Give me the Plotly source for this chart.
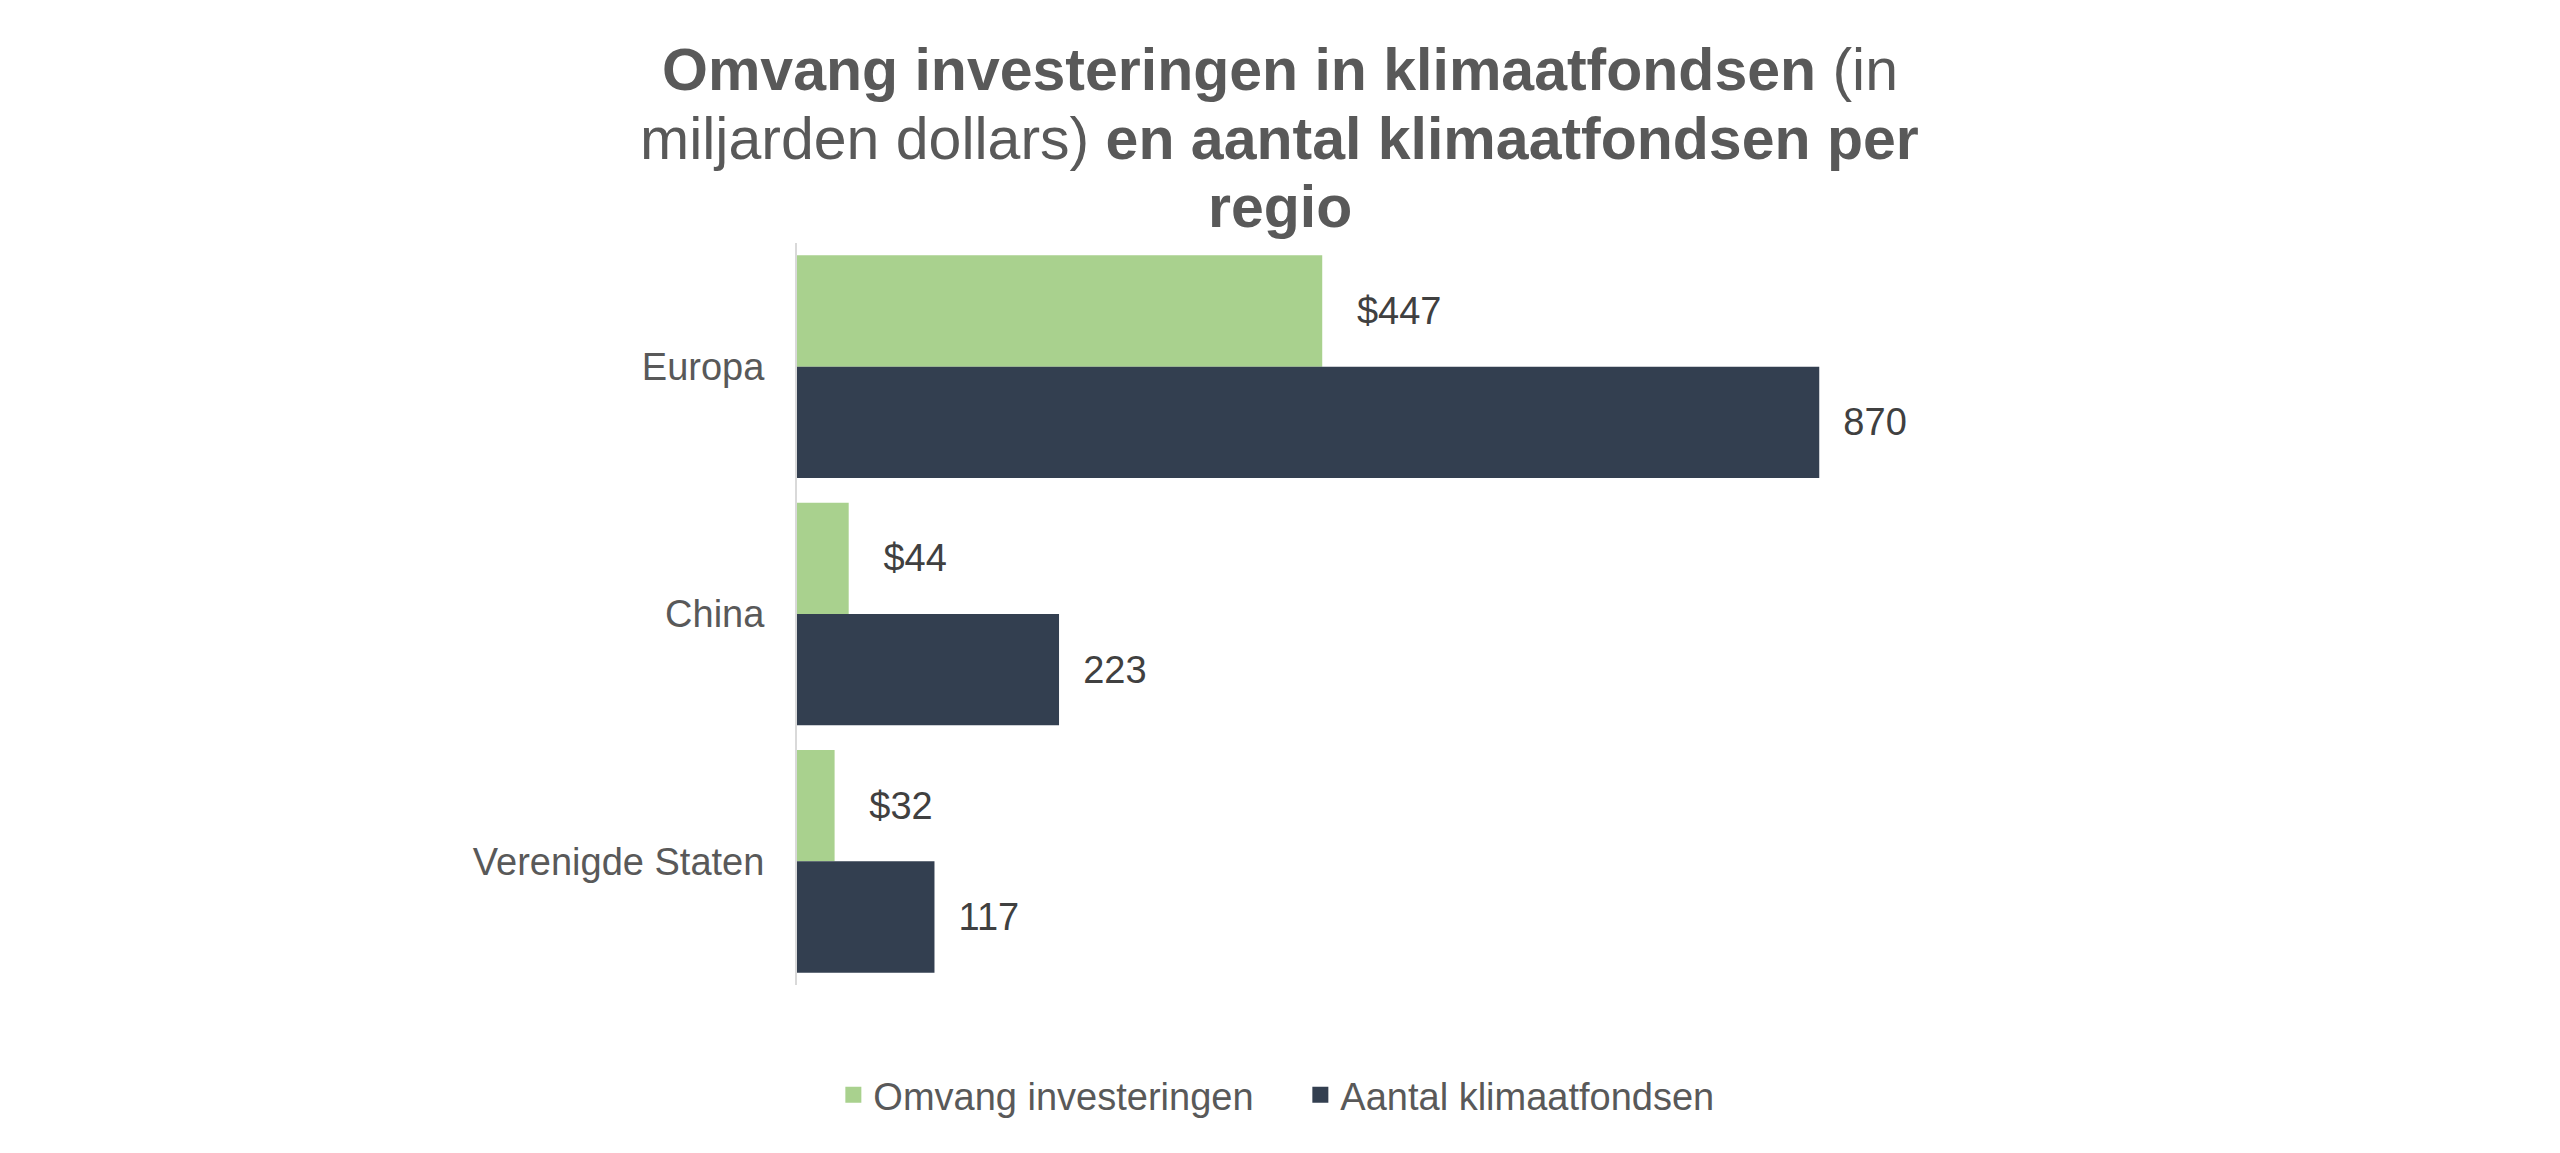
import plotly.graph_objects as go

# regio's en waarden
regios = ["Europa", "China", "Verenigde Staten"]
investeringen = [447, 44, 32]      # miljarden dollars
aantal_fondsen = [870, 223, 117]
reeksen = ["Omvang investeringen", "Aantal klimaatfondsen"]

groen = "#A9D18E"
donker = "#333F50"
grijs = "#595959"
label_kleur = "#404040"
font_naam = "Liberation Sans, Arial, sans-serif"

trace1 = go.Bar(y=regios, x=investeringen, orientation="h", name=reeksen[0], showlegend=False,
                marker=dict(color=groen, line=dict(width=0)),
                text=investeringen, texttemplate="\u00a0\u00a0\u00a0$%{x}", textposition="outside",
                textfont=dict(size=38, color=label_kleur, family=font_naam), cliponaxis=False)
trace2 = go.Bar(y=regios, x=aantal_fondsen, orientation="h", name=reeksen[1], showlegend=False,
                marker=dict(color=donker, line=dict(width=0)),
                text=aantal_fondsen, texttemplate="\u00a0\u00a0%{x}", textposition="outside",
                textfont=dict(size=38, color=label_kleur, family=font_naam), cliponaxis=False)

# legenda met grotere vierkantjes
leg1 = go.Scatter(x=[None], y=[None], mode="markers", name=reeksen[0],
                  marker=dict(symbol="square", size=19, color=groen))
leg2 = go.Scatter(x=[None], y=[None], mode="markers", name=reeksen[1],
                  marker=dict(symbol="square", size=19, color=donker))

# titel regel voor regel (regelafstand zoals in Excel)
titel_regels = ["<b>Omvang investeringen in klimaatfondsen</b> (in",
                "miljarden dollars) <b>en aantal klimaatfondsen per</b>",
                "<b>regio</b>"]
titel_y = [1.233, 1.140, 1.0485]

annotaties = [dict(text=t, x=0.411, y=y, xref="paper", yref="paper",
                   xanchor="center", yanchor="middle", showarrow=False,
                   font=dict(size=59, color=grijs, family=font_naam))
              for t, y in zip(titel_regels, titel_y)]

layout = go.Layout(
    annotations=annotaties,
    barmode="group", bargap=0.1, bargroupgap=0,
    plot_bgcolor="white", paper_bgcolor="white",
    margin=dict(l=789, r=580, t=235, b=160),
    xaxis=dict(range=[0, 1000], visible=False, showgrid=False, zeroline=False),
    yaxis=dict(autorange="reversed", showline=True, linecolor="#D9D9D9", linewidth=2,
               ticks="", showgrid=False, ticklabelstandoff=23,
               tickfont=dict(size=38, color=grijs, family=font_naam)),
    legend=dict(orientation="h", x=0.508, xanchor="center", xref="container",
                y=0.044, yanchor="middle", yref="container", entrywidth=422,
                font=dict(size=38, color=grijs, family=font_naam)),
    font=dict(family=font_naam, color=grijs),
)

fig = go.Figure(data=[trace1, trace2, leg1, leg2], layout=layout)
fig.write_html("out.html")
